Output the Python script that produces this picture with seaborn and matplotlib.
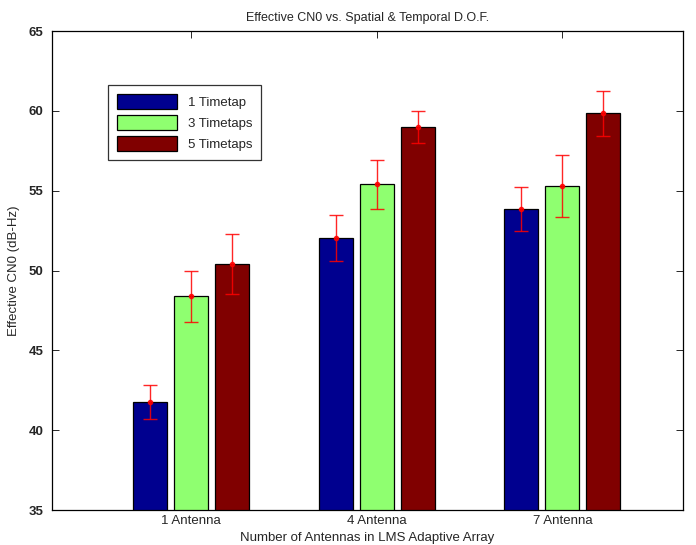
import pandas as pd
import matplotlib
matplotlib.use('Agg')
import matplotlib.pyplot as plt
import seaborn as sns
import numpy as np

antennas = ['1 Antenna', '4 Antenna', '7 Antenna']
taps = ['1 Timetap', '3 Timetaps', '5 Timetaps']
cn0_1tap = [41.75, 52.05, 53.85]
cn0_3tap = [48.4, 55.4, 55.3]
cn0_5tap = [50.4, 59.0, 59.85]
err_1tap = [1.05, 1.45, 1.4]
err_3tap = [1.6, 1.55, 1.95]
err_5tap = [1.9, 1.0, 1.4]

colors = ['#00008f', '#8fff70', '#800000']

sns.set_style("white")
plt.rcParams['font.family'] = ['Liberation Sans', 'DejaVu Sans']

rows = []
for tap, vals, errs in zip(taps, [cn0_1tap, cn0_3tap, cn0_5tap], [err_1tap, err_3tap, err_5tap]):
    for ant, v, e in zip(antennas, vals, errs):
        rows.append({'antenna': ant, 'tap': tap, 'cn0': v, 'err': e})
df = pd.DataFrame(rows)

fs = 9.5
fig = plt.figure(figsize=(6.96, 5.45), dpi=100)
ax = fig.add_axes([0.0747, 0.0642, 0.9066, 0.8789])

sns.barplot(data=df, x='antenna', y='cn0', hue='tap', order=antennas, hue_order=taps,
            palette=colors, saturation=1, width=0.663, gap=0.17, errorbar=None,
            edgecolor='black', linewidth=0.9, ax=ax)

# error bars from the table, placed on the bar centres
for cont, tap in zip(ax.containers, taps):
    sub = df[df['tap'] == tap].set_index('antenna').loc[antennas]
    xs = [b.get_x() + b.get_width() / 2 for b in cont]
    ax.errorbar(xs, sub['cn0'], yerr=sub['err'], fmt='o', color='red', ms=3,
                elinewidth=1, capsize=5, capthick=1, alpha=0.85, zorder=5)

ax.set_ylim(35, 65)
ax.set_xlim(-0.75, 2.65)
ax.set_yticks(np.arange(35, 66, 5))
ax.set_title('Effective CN0 vs. Spatial & Temporal D.O.F.', fontsize=fs - 0.5, pad=7)
ax.set_xlabel('Number of Antennas in LMS Adaptive Array', fontsize=fs, labelpad=4)
ax.set_ylabel('Effective CN0 (dB-Hz)', fontsize=fs, labelpad=6)
ax.tick_params(axis='both', direction='in', length=5, width=0.7, labelsize=fs,
               top=True, right=True, bottom=True, left=True)
ax.tick_params(axis='y', pad=6)
for lab in ax.get_yticklabels():
    lab.set_fontweight('bold')
for s in ax.spines.values():
    s.set_visible(True)
    s.set_color('black')
    s.set_linewidth(0.9)

leg = ax.legend(loc='upper left', bbox_to_anchor=(0.089, 0.887), fontsize=fs,
                frameon=True, fancybox=False, edgecolor='black', handlelength=4.6,
                handleheight=1.4, borderpad=0.65, labelspacing=0.45, handletextpad=0.8,
                borderaxespad=0)
leg.get_frame().set_linewidth(0.9)
leg.set_title(None)

plt.savefig('out.png', dpi=100)
plt.close('all')
